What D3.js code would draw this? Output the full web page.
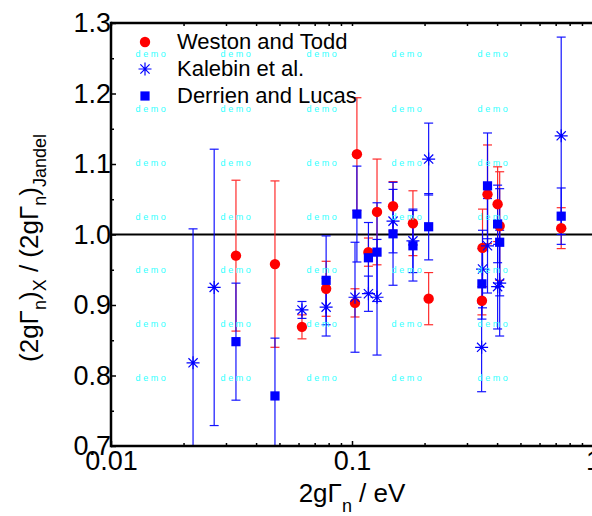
<!DOCTYPE html>
<html>
<head>
<meta charset="utf-8">
<script src="https://cdn.jsdelivr.net/npm/d3@7"></script>
<style>
  body { margin: 0; background: #fff; }
  svg { display: block; font-family: Arial, "Liberation Sans", sans-serif; }
</style>
</head>
<body>
<div id="chart"></div>
<script>
// Weston and Todd
const westonX   = [0.0330, 0.0479, 0.0620, 0.0781, 0.1029, 0.1048, 0.117, 0.127, 0.148, 0.179, 0.208, 0.348, 0.346, 0.365, 0.402, 0.410, 0.738];
const westonY   = [0.970, 0.958, 0.869, 0.923, 0.903, 1.114, 0.975, 1.032, 1.040, 1.016, 0.909, 0.981, 0.906, 1.057, 1.043, 1.012, 1.009];
const westonErr = [0.107, 0.118, 0.017, 0.039, 0.020, 0.080, 0.020, 0.075, 0.035, 0.046, 0.037, 0.055, 0.020, 0.070, 0.053, 0.077, 0.029];

// Kalebin et al.
const kalebinX   = [0.0219, 0.0268, 0.0620, 0.0781, 0.1029, 0.117, 0.127, 0.148, 0.179, 0.208, 0.348, 0.345, 0.365, 0.402, 0.410, 0.738];
const kalebinY   = [0.818, 0.925, 0.893, 0.897, 0.911, 0.916, 0.911, 1.019, 0.991, 1.107, 0.951, 0.840, 0.984, 0.926, 0.931, 1.140];
const kalebinErr = [0.190, 0.196, 0.012, 0.041, 0.078, 0.025, 0.082, 0.045, 0.045, 0.051, 0.055, 0.063, 0.067, 0.060, 0.075, 0.140];

// Derrien and Lucas
const derrienX   = [0.0330, 0.0479, 0.0781, 0.1048, 0.117, 0.127, 0.148, 0.179, 0.208, 0.346, 0.365, 0.402, 0.410, 0.738];
const derrienY   = [0.848, 0.771, 0.935, 1.029, 0.967, 0.975, 1.001, 0.984, 1.011, 0.930, 1.069, 1.015, 0.989, 1.026];
const derrienErr = [0.083, 0.082, 0.063, 0.068, 0.050, 0.070, 0.073, 0.050, 0.047, 0.050, 0.075, 0.055, 0.076, 0.040];

const legendNames = ["Weston and Todd", "Kalebin et al.", "Derrien and Lucas"];
const xMajorTicks = [0.01, 0.1, 1];
const yTicks = [0.7, 0.8, 0.9, 1.0, 1.1, 1.2, 1.3];

const width = 592, height = 516;
const plot = {left: 111, right: 593, top: 23, bottom: 446};

const svg = d3.select("#chart").append("svg")
    .attr("width", width)
    .attr("height", height);

const x = d3.scaleLog().domain([0.01, 1]).range([plot.left, plot.right]);
const y = d3.scaleLinear().domain([0.7, 1.3]).range([plot.bottom, plot.top]);

// minor ticks for the log axis
let xMinor = [];
[0.01, 0.1].forEach(dec => { for (let k = 2; k <= 9; k++) xMinor.push(dec * k); });
let yMinor = d3.range(0.75, 1.3, 0.1);

svg.append("clipPath").attr("id", "clip")
  .append("rect")
    .attr("x", plot.left).attr("y", plot.top)
    .attr("width", plot.right - plot.left).attr("height", plot.bottom - plot.top);

// reference line at 1
svg.append("line")
    .attr("x1", plot.left).attr("x2", width)
    .attr("y1", y(1)).attr("y2", y(1))
    .attr("stroke", "#000").attr("stroke-width", 2);

function makeSeries(xs, ys, es) {
  return xs.map((d, i) => ({x: d, y: ys[i], e: es[i]}));
}
const series = [
  {name: legendNames[0], color: "#ff0000", bar: "#ff1a1a", shape: "circle", data: makeSeries(westonX, westonY, westonErr)},
  {name: legendNames[1], color: "#0000ff", bar: "#0000ff", shape: "star", data: makeSeries(kalebinX, kalebinY, kalebinErr)},
  {name: legendNames[2], color: "#0000ff", bar: "#0000ff", shape: "square", data: makeSeries(derrienX, derrienY, derrienErr)}
];

// error bars
const bars = svg.append("g").attr("clip-path", "url(#clip)");
series.forEach(s => {
  const g = bars.append("g").attr("stroke", s.bar).attr("stroke-width", 1.2).attr("opacity", 0.92);
  g.selectAll(".ev").data(s.data).join("line")
      .attr("x1", d => x(d.x)).attr("x2", d => x(d.x))
      .attr("y1", d => y(d.y + d.e)).attr("y2", d => y(d.y - d.e));
  g.selectAll(".ct").data(s.data).join("line")
      .attr("x1", d => x(d.x) - 4.5).attr("x2", d => x(d.x) + 4.5)
      .attr("y1", d => y(d.y + d.e)).attr("y2", d => y(d.y + d.e));
  g.selectAll(".cb").data(s.data).join("line")
      .attr("x1", d => x(d.x) - 4.5).attr("x2", d => x(d.x) + 4.5)
      .attr("y1", d => y(d.y - d.e)).attr("y2", d => y(d.y - d.e));
});

function starPath(r) {
  const p = d3.path();
  for (let k = 0; k < 4; k++) {
    const a = k * Math.PI / 4;
    p.moveTo(-r * Math.cos(a), -r * Math.sin(a));
    p.lineTo(r * Math.cos(a), r * Math.sin(a));
  }
  return p.toString();
}

function drawMarker(g, shape, color) {
  if (shape === "circle") {
    g.append("circle").attr("r", 5.2).attr("fill", color);
  } else if (shape === "square") {
    g.append("rect").attr("x", -4.6).attr("y", -4.6).attr("width", 9.2).attr("height", 9.2).attr("fill", color);
  } else {
    g.append("path").attr("d", starPath(6.5)).attr("stroke", color).attr("stroke-width", 1.2).attr("fill", "none");
  }
}

// markers
const marks = svg.append("g").attr("clip-path", "url(#clip)");
series.forEach(s => {
  marks.selectAll(null).data(s.data).join("g")
      .attr("transform", d => `translate(${x(d.x)},${y(d.y)})`)
      .each(function () { drawMarker(d3.select(this), s.shape, s.color); });
});

// axes
const tickStyle = g => {
  g.select(".domain").remove();
  g.selectAll(".tick line").attr("stroke", "#000").attr("stroke-width", 1.5);
  g.selectAll("text").attr("fill", "#000").attr("font-size", "27px").attr("font-family", "Arial, 'Liberation Sans', sans-serif");
};

svg.append("g").attr("transform", `translate(0,${plot.bottom})`)
    .call(d3.axisBottom(x).tickValues(xMinor).tickSize(-3).tickFormat(""))
    .call(tickStyle);
svg.append("g").attr("transform", `translate(0,${plot.bottom})`)
    .call(d3.axisBottom(x).tickValues(xMajorTicks).tickSize(-5).tickPadding(5).tickFormat(d => String(d)))
    .call(tickStyle);
svg.append("g").attr("transform", `translate(0,${plot.top})`)
    .call(d3.axisTop(x).tickValues(xMinor.concat(xMajorTicks)).tickSize(-3).tickFormat(""))
    .call(tickStyle);

svg.append("g").attr("transform", `translate(${plot.left},0)`)
    .call(d3.axisLeft(y).tickValues(yMinor).tickSize(-3).tickFormat(""))
    .call(tickStyle);
svg.append("g").attr("transform", `translate(${plot.left},0)`)
    .call(d3.axisLeft(y).tickValues(yTicks).tickSize(-5).tickPadding(0).tickFormat(d3.format(".1f")))
    .call(tickStyle);

// frame
svg.append("line").attr("x1", plot.left).attr("x2", width).attr("y1", plot.top).attr("y2", plot.top)
    .attr("stroke", "#000").attr("stroke-width", 2.5);
svg.append("line").attr("x1", plot.left).attr("x2", width).attr("y1", plot.bottom).attr("y2", plot.bottom)
    .attr("stroke", "#000").attr("stroke-width", 2.5);
svg.append("line").attr("x1", plot.left).attr("x2", plot.left).attr("y1", plot.top - 1.2).attr("y2", plot.bottom + 1.2)
    .attr("stroke", "#000").attr("stroke-width", 2.5);

// legend
const legend = svg.append("g");
series.forEach((s, i) => {
  const ly = 42 + i * 27;
  const g = legend.append("g").attr("transform", `translate(145,${ly})`);
  drawMarker(g, s.shape, s.color);
  legend.append("text")
      .attr("x", 177).attr("y", ly + 7)
      .attr("font-size", "22px")
      .text(s.name);
});

// axis titles
const xt = svg.append("text")
    .attr("x", 352).attr("y", 502)
    .attr("text-anchor", "middle")
    .attr("font-size", "26px");
xt.append("tspan").text("2gΓ");
xt.append("tspan").attr("font-size", "18px").attr("dy", 10).text("n");
xt.append("tspan").attr("dy", -10).text(" / eV");

const yt = svg.append("text")
    .attr("transform", "translate(38,248) rotate(-90)")
    .attr("text-anchor", "middle")
    .attr("font-size", "26px");
yt.append("tspan").text("(2gΓ");
yt.append("tspan").attr("font-size", "18px").attr("dy", 8).text("n");
yt.append("tspan").attr("dy", -8).text(")");
yt.append("tspan").attr("font-size", "18px").attr("dy", 8).text("X");
yt.append("tspan").attr("dy", -8).text(" / (2gΓ");
yt.append("tspan").attr("font-size", "18px").attr("dy", 8).text("n");
yt.append("tspan").attr("dy", -8).text(")");
yt.append("tspan").attr("font-size", "18px").attr("dy", 8).text("Jandel");

// "demo" watermark grid
const demoCols = [152, 237, 323, 408, 494];
const demoRows = [54, 109, 163, 217, 270, 324, 378];
const wm = svg.append("g");
demoRows.forEach(ry => demoCols.forEach(cx => {
  wm.append("text")
      .attr("x", cx).attr("y", ry + 3)
      .attr("text-anchor", "middle")
      .attr("font-size", "9px")
      .attr("letter-spacing", "2.6px")
      .attr("fill", "#33ffff")
      .text("demo");
}));
</script>
</body>
</html>
